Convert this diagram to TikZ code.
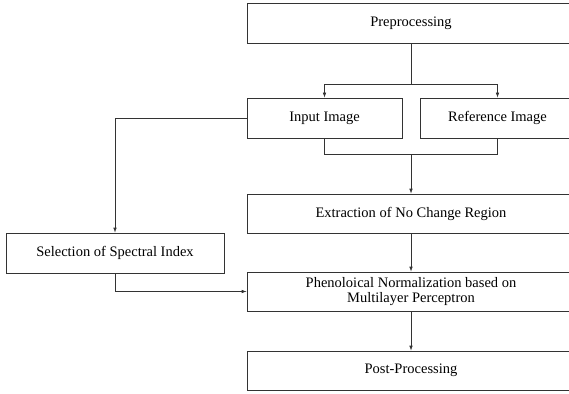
\documentclass[tikz,border=0pt]{standalone}
\usepackage{fontspec}
\setmainfont{Liberation Serif}
\usetikzlibrary{arrows.meta}
\begin{document}
\begin{tikzpicture}[x=1pt,y=-1pt,
  box/.style={draw=black!80,line width=0.7pt,inner sep=0pt,align=center,font=\fontsize{14.5}{15}\selectfont},
  arr/.style={-{Latex[length=5pt,width=3.6pt]}},
  conn/.style={draw=black!80,line width=0.7pt}]
\clip (0,0) rectangle (569,393);
\fill[white] (0,0) rectangle (569,393);
\node[box,minimum width=328pt,minimum height=40pt] (pre) at (411,23) {Preprocessing};
\node[box,minimum width=155pt,minimum height=40pt] (inp) at (324.5,118) {Input Image};
\node[box,minimum width=155pt,minimum height=40pt] (ref) at (497.5,118) {Reference Image};
\node[box,minimum width=328pt,minimum height=39pt] (ext) at (411,213.5) {Extraction of No Change Region};
\node[box,minimum width=218pt,minimum height=40pt] (sel) at (115,253) {Selection of Spectral Index};
\node[box,minimum width=328pt,minimum height=39pt] (phen) at (411,291.5) {Phenoloical Normalization based on\\Multilayer Perceptron};
\node[box,minimum width=328pt,minimum height=39pt] (post) at (411,370.5) {Post-Processing};
\coordinate (j1) at (411,84);
\coordinate (j2) at (411,154);
\draw[conn] (pre.south) -- (j1);
\draw[conn,arr] (j1) -| (inp.north);
\draw[conn,arr] (j1) -| (ref.north);
\draw[conn,arr] (inp.west) -| (sel.north);
\draw[conn] (inp.south) |- (j2);
\draw[conn] (ref.south) |- (j2);
\draw[conn,arr] (j2) -- (ext.north);
\draw[conn,arr] (ext.south) -- (phen.north);
\draw[conn,arr] (sel.south) |- (phen.west);
\draw[conn,arr] (phen.south) -- (post.north);
\end{tikzpicture}
\end{document}
